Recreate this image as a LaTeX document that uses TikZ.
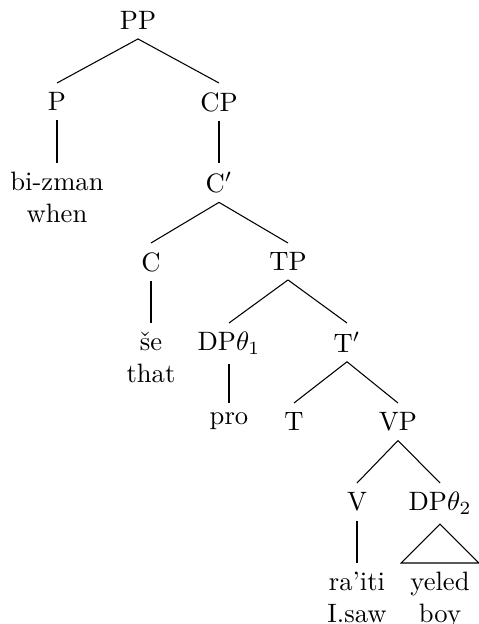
\documentclass[tikz,border=0pt]{standalone}
\usepackage{amsmath}

\tikzset{
  cat/.style={anchor=north, inner sep=3.33pt, align=center},
  branch/.style={draw, line width=0.4pt}
}

\begin{document}
\begin{tikzpicture}[x=0.376pt, y=-0.376pt]
    \useasboundingbox (0,0) rectangle (478,624);
    % level 0
    \node[cat] (PP) at (138,2) {PP};
    % level 1
    \node[cat] (P)  at (57,83)  {P};
    \node[cat] (CP) at (219,83) {CP};
    % level 2
    \node[cat] (Pword) at (57,163)  {bi-zman\\when};
    \node[cat] (Cbar)  at (219,163) {C$'$};
    % level 3
    \node[cat] (C)  at (151,243) {C};
    \node[cat] (TP) at (288,243) {TP};
    % level 4
    \node[cat] (Cword) at (151,323) {še\\that};
    \node[cat] (DPa)   at (229,323) {DP$\theta_1$};
    \node[cat] (Tbar)  at (347,323) {T$'$};
    % level 5
    \node[cat] (pro) at (229,403) {pro};
    \node[cat] (T)   at (294,403) {T};
    \node[cat] (VP)  at (398,403) {VP};
    % level 6
    \node[cat] (V)   at (357,483) {V};
    \node[cat] (DPb) at (440,483) {DP$\theta_2$};
    % level 7
    \node[cat] (Vword)  at (357,563) {ra’iti\\I.saw};
    \node[cat] (DPword) at (440,563) {yeled\\boy};
    % branches
    \foreach \a/\b in {PP/P, PP/CP, P/Pword, CP/Cbar, Cbar/C, Cbar/TP,
                       C/Cword, TP/DPa, TP/Tbar, DPa/pro, Tbar/T, Tbar/VP,
                       VP/V, VP/DPb, V/Vword}
      \path[branch] (\a.south) -- (\b.north);
    % roof
    \path[branch] (DPb.south) -- (DPword.north west) -- (DPword.north east) -- cycle;
\end{tikzpicture}
\end{document}
